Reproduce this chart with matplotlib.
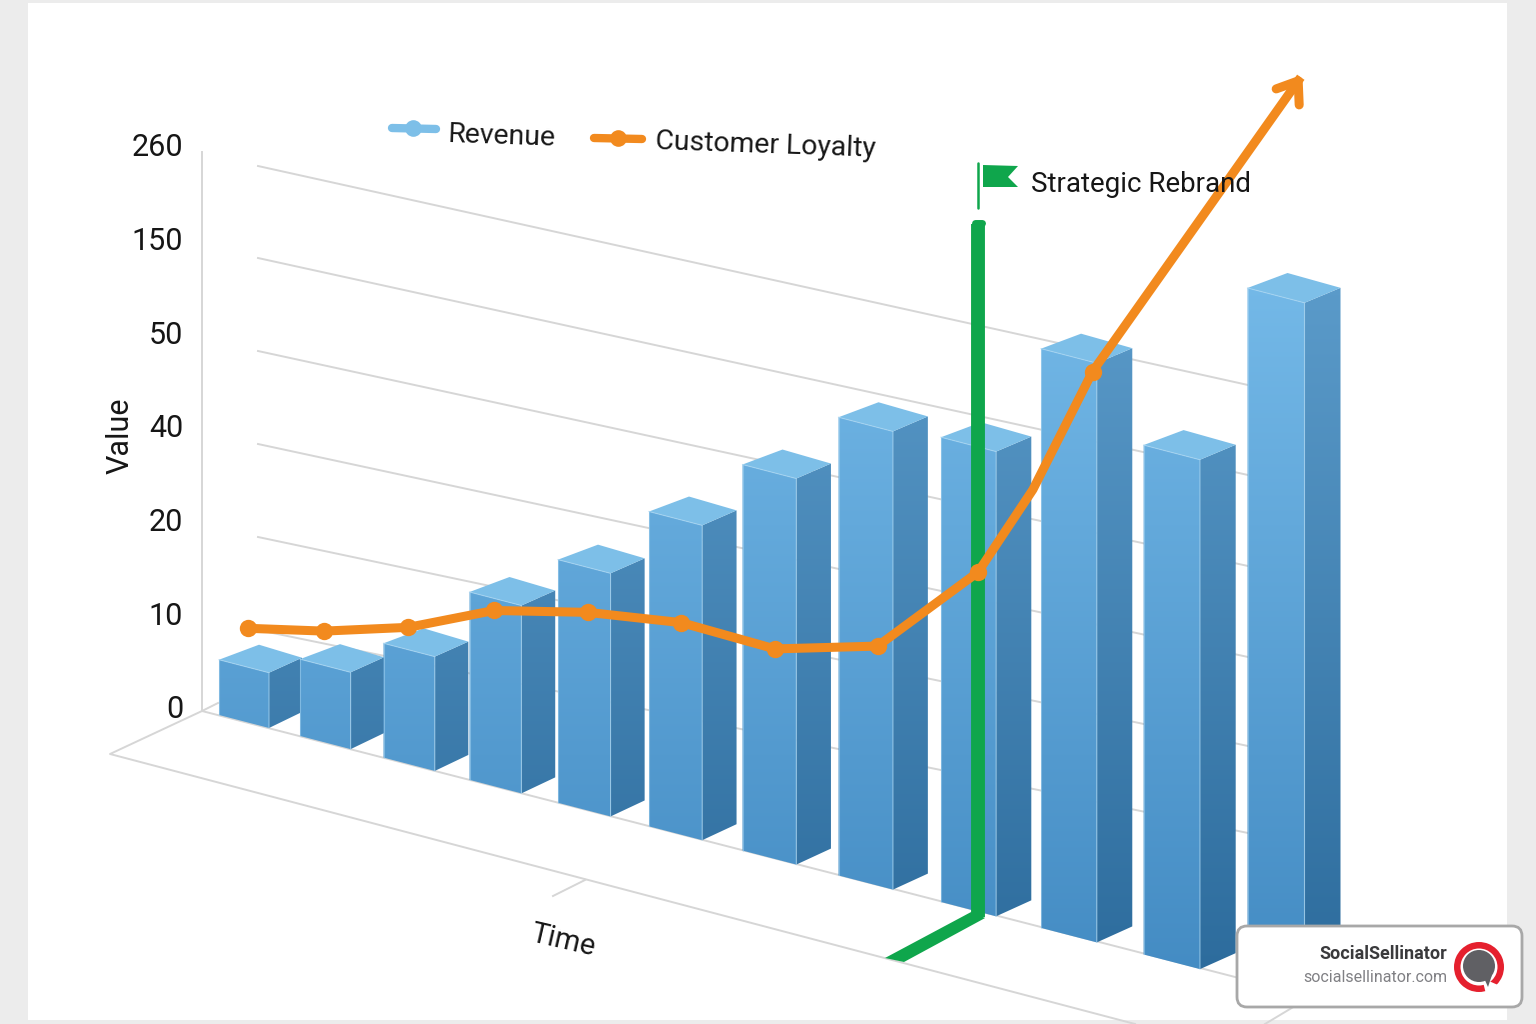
import numpy as np
import matplotlib
matplotlib.use('Agg')
import matplotlib.pyplot as plt
from matplotlib.patches import Polygon, Rectangle, FancyBboxPatch, Circle, Wedge

plt.rcParams['font.family'] = ['Roboto', 'DejaVu Sans']

# the value axis is evenly spaced but its labels are not
tick_labels = [0, 10, 20, 40, 50, 150, 260]
scale_values = tick_labels + [370, 480]

categories = [0, 1, 2, 3, 4, 5, 6, 7, 8.04, 9.03, 10.02, 11]
revenue = [5.9, 8.2, 12.2, 20.1, 31.9, 43.6, 62, 139, 146, 280, 198, 414]

# customer loyalty sits between the bars, so it has its own category positions
loyalty_pos = [0.36, 1.29, 2.29, 3.28, 4.33, 5.35, 6.34, 7.4, 8.41, 8.95, 9.53, 11.47]
loyalty = [8.4, 8.1, 8.5, 10.3, 10.1, 9.0, 6.2, 6.5, 14.4, 26.4, 45.8, 335]
loyalty_markers = [0, 1, 2, 3, 4, 5, 6, 7, 8, 10]
rebrand_pos = 8.41

W, H = 1536, 1024
AXIS_ZERO = 707
TICK_STEP = 93.7
BLUE = '#7DBFE8'
ORANGE = '#F28A1E'
GREEN = '#0FA64C'
GRID = '#D6D6D6'
TEXT = '#161616'


def value_height(v):
    return np.interp(v, scale_values, np.arange(len(scale_values))) * TICK_STEP


def ground_x(t):
    return 219 + 79.75 * t + 1.25 * t ** 2


def ground_y(x):
    return 715 + 0.259 * (x - 219)


fig = plt.figure(figsize=(W / 100, H / 100), dpi=100, facecolor='#ECECEC')
ax = fig.add_axes([0, 0, 1, 1])
ax.set_axis_off()
ax.add_patch(Rectangle((28, 3), 1479, 1017, fc='white', ec='none', zorder=0))

# back wall lines and floor
grid_left = [166, 258, 351, 444, 537, 630]
grid_right = [385, 475, 566, 657, 746, 833]
for yl, yr in zip(grid_left, grid_right):
    ax.plot([258, 1248], [yl, yr], color=GRID, lw=1.4, zorder=1)
ax.plot([202, 202], [152, 711], color=GRID, lw=1.4, zorder=1)
ax.plot([218, 202, 110, 1135], [703, 711, 754, 1024], color=GRID, lw=1.4, zorder=1)
ax.plot([202, 1305], [711, 995], color=GRID, lw=1.4, zorder=1)
ax.plot([1265, 1300], [1024, 1003], color=GRID, lw=1.4, zorder=1)
ax.plot([553, 585], [896, 880], color=GRID, lw=1.4, zorder=1)

for i, lab in enumerate(tick_labels):
    ax.text(183, AXIS_ZERO + 3 - TICK_STEP * i, str(lab), ha='right', va='center',
            fontsize=22, color=TEXT, zorder=2)
ax.text(120, 436, 'Value', rotation=90, ha='center', va='center', fontsize=22, color=TEXT)
ax.text(563, 941, 'Time', rotation=-13, ha='center', va='center', fontsize=21,
        color=TEXT, rotation_mode='anchor')

# gradients run with the height on the page, not per bar
ramp = np.linspace(0, 1, 1024)[:, None]


def ramp_image(top, bottom, y0, y1, z, clip):
    c0 = np.array(matplotlib.colors.to_rgb(top))
    c1 = np.array(matplotlib.colors.to_rgb(bottom))
    img = (c0 + (c1 - c0) * ramp)[:, None, :].reshape(1024, 1, 3)
    im = ax.imshow(img, extent=(0, W, y1, y0), aspect='auto', zorder=z, interpolation='bilinear')
    im.set_clip_path(clip)


for t, val in zip(categories, revenue):
    x0 = ground_x(t)
    y0 = ground_y(x0)
    w = 50 + 7 * t / 11
    rise = w * 0.26
    dx = 33 + 3 * t / 11
    h = value_height(val)
    x1 = x0 + w
    yb = y0 + rise
    top = yb - h
    z = 3 + t * 0.01
    front = [(x0, y0), (x1, yb), (x1, top), (x0, top - rise)]
    side = [(x1, yb), (x1 + dx, yb - 16), (x1 + dx, top - 15), (x1, top)]
    lid = [(x0, top - rise), (x0 + 40, top - rise - 15), (x1 + dx, top - 15), (x1, top)]
    for pts, c0, c1 in [(front, '#74B9E8', '#428AC2'), (side, '#5B9BCA', '#2B6A9B')]:
        p = Polygon(pts, closed=True, fc='none', ec='none', transform=ax.transData)
        ax.add_patch(p)
        ramp_image(c0, c1, 280, 1000, z, p)
    ax.add_patch(Polygon(lid, closed=True, fc=BLUE, ec='none', zorder=z))
    ax.plot([x0, x1, x1], [top - rise, top, yb], color='#A9D6F2', lw=0.8, alpha=0.7, zorder=z + 0.001)
    ax.plot([x0, x0], [top - rise, y0], color='#A9D6F2', lw=0.8, alpha=0.5, zorder=z + 0.001)

# strategic rebrand marker
rx = ground_x(rebrand_pos)
ax.plot([rx, rx], [224, 917], color=GREEN, lw=10, solid_capstyle='butt', zorder=4)
ax.plot([rx - 3.5, rx + 3.5], [223, 223], color=GREEN, lw=5, solid_capstyle='round', zorder=4)
ax.add_patch(Polygon([(rx - 7, 912), (rx + 7, 918), (904, 962), (885, 958)], closed=True, fc=GREEN, ec='none', zorder=4))
ax.plot([rx, rx], [163, 208], color=GREEN, lw=1.8, solid_capstyle='round', zorder=4)
ax.add_patch(Polygon([(983, 165), (1018, 166), (1008, 177), (1018, 187), (983, 187)], closed=True,
                     fc=GREEN, ec='none', zorder=4))
ax.text(1031, 184, 'Strategic Rebrand', ha='left', va='center', fontsize=20, color=TEXT, zorder=7)

# loyalty line with open arrow head
lx = ground_x(np.array(loyalty_pos))
ly = AXIS_ZERO - value_height(np.array(loyalty))
ax.plot(lx, ly, color=ORANGE, lw=6.5, solid_joinstyle='round', zorder=6)
ax.plot(lx[loyalty_markers], ly[loyalty_markers], 'o', color=ORANGE, ms=12.5, mew=0, zorder=6)
ax.plot([lx[-1] - 22, lx[-1], lx[-1] + 1], [ly[-1] + 8, ly[-1], ly[-1] + 24], color=ORANGE, lw=6.5,
        solid_capstyle='round', solid_joinstyle='round', zorder=6)
ax.fill([lx[-1], lx[-1] - 12, lx[-1] - 2], [ly[-1], ly[-1] + 5, ly[-1] + 14], color=ORANGE, lw=0, zorder=6)

# legend, drawn by hand because it tilts with the scene
ax.plot([392, 436], [128, 129], color=BLUE, lw=6, solid_capstyle='round', zorder=5)
ax.plot([413], [128], 'o', color=BLUE, ms=12, mew=0, zorder=5)
ax.text(448, 135, 'Revenue', rotation=-2, ha='left', va='center', fontsize=20.5, color=TEXT,
        rotation_mode='anchor')
ax.plot([594, 642], [138, 139], color=ORANGE, lw=6, solid_capstyle='round', zorder=5)
ax.plot([618], [138], 'o', color=ORANGE, ms=12, mew=0, zorder=5)
ax.text(655, 142, 'Customer Loyalty', rotation=-2, ha='left', va='center', fontsize=20.4, color=TEXT,
        rotation_mode='anchor')

# badge
ax.add_patch(FancyBboxPatch((1245, 934), 269, 65, boxstyle='round,pad=8,rounding_size=10',
                            fc='white', ec='#A8A8A8', lw=2, zorder=8))
ax.text(1447, 954, 'SocialSellinator', ha='right', va='center', fontsize=13, fontweight='bold',
        color='#3A3A3C', zorder=9)
ax.text(1447, 978, 'socialsellinator.com', ha='right', va='center', fontsize=11.5, color='#808084', zorder=9)
ax.add_patch(Wedge((1479, 967), 25, 0, 360, width=6.5, fc='#E5202E', ec='none', zorder=9))
ax.add_patch(Polygon([(1482, 978), (1498, 985), (1486, 994)], closed=True, fc='white', ec='none', zorder=9))
ax.add_patch(Circle((1479, 966), 16, fc='#606064', ec='none', zorder=9))
ax.add_patch(Polygon([(1484, 978), (1492, 975), (1488, 987)], closed=True, fc='#606064', ec='none', zorder=9))

ax.set_xlim(0, W)
ax.set_ylim(H, 0)
fig.savefig('out.png', dpi=100, facecolor=fig.get_facecolor())
